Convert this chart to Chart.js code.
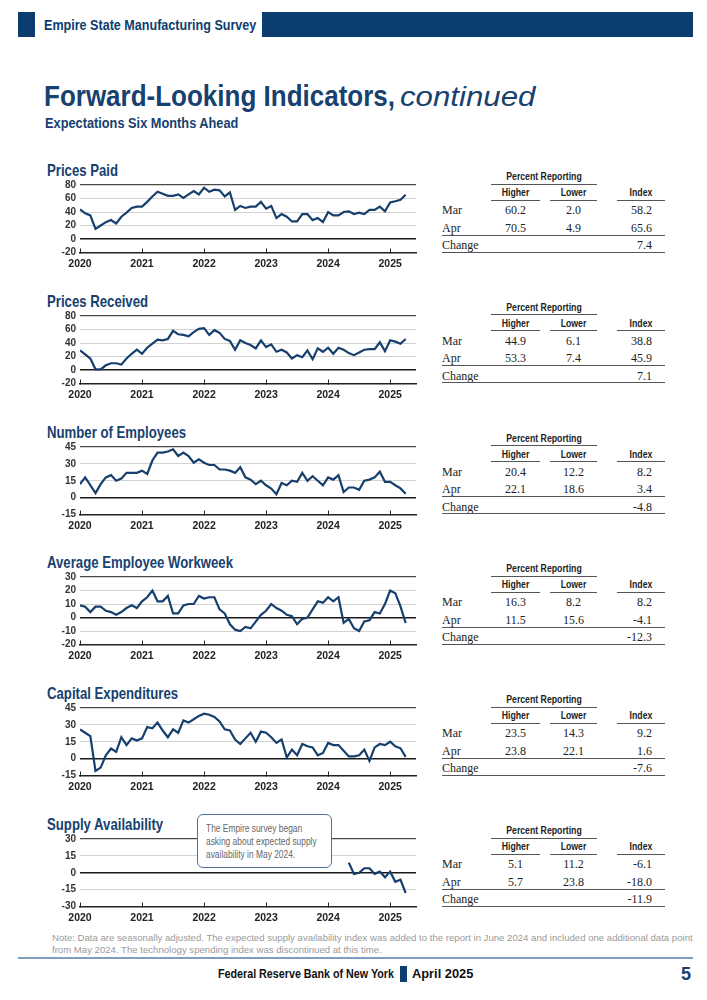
<!DOCTYPE html>
<html>
<head>
<meta charset="utf-8">
<script src="https://cdn.jsdelivr.net/npm/chart.js@4.4.1/dist/chart.umd.min.js"></script>
<style>
body { margin: 0; background: #fff; }
#page { position: relative; width: 707px; height: 1000px; overflow: hidden;
        font-family: "Liberation Sans", Arial, sans-serif; color: #17416f; }
.abs { position: absolute; white-space: nowrap; transform-origin: 0 50%; }
.box { position: absolute; }
.panelTitle { position: absolute; left: 47px; font-weight: bold; font-size: 17px; color: #17416f; line-height: 20px;
              white-space: nowrap; transform: scaleX(0.775); transform-origin: 0 50%; }
.wrap { position: absolute; left: 40px; width: 380px; height: 96px; }
.th { position: absolute; font-weight: bold; font-size: 10.5px; color: #222; text-align: center; line-height: 12px;
      white-space: nowrap; transform: scaleX(0.83); }
.td { position: absolute; font-family: "Liberation Serif", "DejaVu Serif", serif; font-size: 12px; color: #222; line-height: 14px; }
.rule { position: absolute; height: 1.3px; background: #555; }
</style>
</head>
<body>
<div id="page">
  <!-- header -->
  <div class="box" style="left:18px;top:12px;width:17px;height:25px;background:#0b3d6f"></div>
  <div class="abs fit" data-w="212" style="left:44px;top:15px;font-size:15px;font-weight:bold;color:#0b3d6f;line-height:20px">Empire State Manufacturing Survey</div>
  <div class="box" style="left:262px;top:12px;width:431px;height:25px;background:#0b3d6f"></div>

  <div class="abs fit" data-w="351" style="left:44px;top:78px;font-size:30px;font-weight:bold;line-height:36px;color:#17416f">Forward-Looking Indicators,</div>
  <div class="abs fit" data-w="135" style="left:400px;top:79px;font-size:28px;font-style:italic;line-height:36px;color:#17416f">continued</div>
  <div class="abs fit" data-w="193" style="left:45px;top:114px;font-size:14.5px;font-weight:bold;line-height:18px;color:#17416f">Expectations Six Months Ahead</div>

  <!-- callout in supply panel -->
  <div class="box" style="left:197px;top:814px;width:133px;height:52px;border:1.3px solid #4f739c;border-radius:6px;background:#fff;z-index:5"></div>
  <div class="abs" style="left:206px;top:822px;font-size:10.5px;line-height:13px;color:#666;z-index:6;transform:scaleX(0.8)">The Empire survey began<br>asking about expected supply<br>availability in May 2024.</div>

  <!-- footer -->
  <div class="abs fit" data-w="641" style="left:52px;top:932px;font-size:9.5px;line-height:12px;color:#9a9a9a">Note: Data are seasonally adjusted. The expected supply availability index was added to the report in June 2024 and included one additional data point<br>from May 2024. The technology spending index was discontinued at this time.</div>
  <div class="box" style="left:18px;top:957px;width:675px;height:1.5px;background:#7f9dc0"></div>
  <div class="abs fit" data-w="176" style="left:218px;top:967px;font-size:12px;font-weight:bold;color:#111;line-height:15px">Federal Reserve Bank of New York</div>
  <div class="box" style="left:400px;top:966px;width:7px;height:16px;background:#0b3d6f"></div>
  <div class="abs fit" data-w="61" style="left:412px;top:967px;font-size:12px;font-weight:bold;color:#111;line-height:15px">April 2025</div>
  <div class="abs" style="left:681px;top:964px;font-size:18px;font-weight:bold;color:#17416f;line-height:20px">5</div>
</div>

<script>
const years = ['2020', '2021', '2022', '2023', '2024', '2025'];
const monthNames = ['Jan', 'Feb', 'Mar', 'Apr', 'May', 'Jun', 'Jul', 'Aug', 'Sep', 'Oct', 'Nov', 'Dec'];

// Jan 2020 .. Apr 2025, monthly
const pricesPaid = [44, 38, 35, 15, 20, 25, 28, 23, 33, 39, 46, 48,
    48, 55, 63, 70, 67, 64, 64, 66, 61, 66, 71, 66,
    76, 70, 73, 72, 63, 69, 43, 49, 46, 48, 48, 55,
    45, 49, 31, 37, 33, 26, 26, 37, 37, 28, 31, 25,
    40, 35, 35, 40, 41, 37, 39, 37, 43, 43, 48, 41,
    54, 56, 58.2, 65.6];
const pricesReceived = [29, 23, 17, 1, 1, 7, 10, 10, 8, 17, 24, 30,
    24, 33, 39, 45, 44, 46, 58, 53, 52, 50, 56, 61,
    62, 52, 59, 55, 46, 43, 30, 44, 40, 37, 32, 44,
    34, 38, 27, 30, 26, 17, 22, 19, 29, 16, 32, 27,
    33, 24, 33, 30, 25, 22, 26, 30, 31, 31, 41, 28,
    44, 42, 38.8, 45.9];
const employees = [12, 18, 11, 4, 12, 18, 20, 15, 17, 22, 22, 22,
    24, 21, 33, 40, 40, 41, 43, 37, 40, 37, 31, 34,
    31, 29, 29, 25, 25, 24, 22, 27, 18, 16, 12, 15,
    11, 8, 3, 13, 11, 15, 14, 22, 15, 19, 15, 11,
    18, 16, 20, 5, 9, 9, 7, 15, 16, 18, 23, 14,
    14, 11, 8.2, 3.4];
const workweek = [9, 8, 4, 8, 8, 5, 4, 2, 4, 7, 9, 7,
    12, 15, 20, 12, 12, 16, 3, 3, 9, 10, 10, 16,
    14, 15, 15, 6, 3, -5, -9, -10, -7, -8, -3, 2,
    5, 10, 7, 5, 2, 1, -5, -1, 0, 6, 12, 11,
    15, 12, 15, -4, -1, -8, -10, -3, -2, 4, 3, 10,
    20, 18, 8.2, -4.1];
const capex = [26, 23, 20, -11, -8, 3, 9, 6, 19, 12, 18, 16,
    18, 28, 27, 32, 25, 19, 26, 23, 34, 32, 35, 38,
    40, 39, 37, 33, 26, 25, 17, 13, 18, 23, 15, 24,
    23, 19, 14, 17, 1, 8, 3, 13, 11, 10, 3, 5,
    14, 12, 12, 7, 2, 2, 3, 8, -2, 10, 13, 12,
    15, 11, 9.2, 1.6];
// survey question starts May 2024
const supplyStart = 'May 2024';
const supply = [9, -1, 0, 4, 4, -1, 1, -4, 1, -8, -6.1, -18.0];

const tableCols = ['Higher', 'Lower', 'Index'];
const tableRows = ['Mar', 'Apr', 'Change'];
const ppTable = [['60.2', '2.0', '58.2'], ['70.5', '4.9', '65.6'], ['7.4']];
const prTable = [['44.9', '6.1', '38.8'], ['53.3', '7.4', '45.9'], ['7.1']];
const empTable = [['20.4', '12.2', '8.2'], ['22.1', '18.6', '3.4'], ['-4.8']];
const wwTable = [['16.3', '8.2', '8.2'], ['11.5', '15.6', '-4.1'], ['-12.3']];
const capexTable = [['23.5', '14.3', '9.2'], ['23.8', '22.1', '1.6'], ['-7.6']];
const supplyTable = [['5.1', '11.2', '-6.1'], ['5.7', '23.8', '-18.0'], ['-11.9']];

const months = [];
years.forEach(y => monthNames.forEach(m => months.push(m + ' ' + y)));
months.length = pricesPaid.length;

const FONT = '"Liberation Sans", Arial, sans-serif';
const LINE = '#173f6d';

const panels = [
    { title: 'Prices Paid', values: pricesPaid, min: -20, max: 80, step: 20, table: ppTable, top: 185 },
    { title: 'Prices Received', values: pricesReceived, min: -20, max: 80, step: 20, table: prTable, top: 315.5 },
    { title: 'Number of Employees', values: employees, min: -15, max: 45, step: 15, table: empTable, top: 446.5 },
    { title: 'Average Employee Workweek', values: workweek, min: -20, max: 30, step: 10, table: wwTable, top: 577 },
    { title: 'Capital Expenditures', values: capex, min: -15, max: 45, step: 15, table: capexTable, top: 708 },
    { title: 'Supply Availability', values: months.map((m, i) => {
        const k = i - months.indexOf(supplyStart);
        return k >= 0 ? supply[k] : null;
    }), min: -30, max: 30, step: 15, table: supplyTable, top: 839 }
];

// small year ticks sitting on the axis, pointing up
const yearTicks = {
    id: 'yearTicks',
    afterDatasetsDraw(chart) {
        const { ctx, chartArea } = chart;
        const x = chart.scales.x;
        ctx.save();
        ctx.strokeStyle = '#222';
        ctx.lineWidth = 1;
        x.ticks.forEach(t => {
            const px = Math.round(x.getPixelForValue(t.value)) + 0.5;
            ctx.beginPath();
            ctx.moveTo(px, chartArea.bottom - 4);
            ctx.lineTo(px, chartArea.bottom + 1);
            ctx.stroke();
        });
        ctx.restore();
    }
};

const page = document.getElementById('page');

const addDiv = (cls, style, text) => {
    const d = document.createElement('div');
    d.className = cls;
    d.style.cssText = style;
    if (text !== undefined) d.textContent = text;
    page.appendChild(d);
    return d;
};

const drawTable = (rows, top) => {
    const colL = [491, 550, 617];
    const colW = [49, 47, 48];
    addDiv('th', `left:481px;width:126px;top:${top - 6}px`, 'Percent Reporting');
    addDiv('rule', `left:491px;width:106px;top:${top + 7.5}px`);
    tableCols.forEach((c, i) => {
        addDiv('th', `left:${colL[i]}px;width:${colW[i]}px;top:${top + 10}px`, c);
        addDiv('rule', `left:${colL[i]}px;width:${colW[i]}px;top:${top + 23.5}px`);
    });
    const rowY = [top + 27, top + 44.5, top + 62];
    tableRows.forEach((r, j) => {
        addDiv('td', `left:442px;top:${rowY[j]}px`, r);
        const vals = rows[j];
        if (vals.length === 3) {
            addDiv('td', `left:${colL[0]}px;width:${colW[0]}px;text-align:center;top:${rowY[j]}px`, vals[0]);
            addDiv('td', `left:${colL[1]}px;width:${colW[1]}px;text-align:center;top:${rowY[j]}px`, vals[1]);
            addDiv('td', `left:600px;width:52px;text-align:right;top:${rowY[j]}px`, vals[2]);
        } else {
            addDiv('td', `left:600px;width:52px;text-align:right;top:${rowY[j]}px`, vals[0]);
        }
    });
    addDiv('rule', `left:442px;width:223px;top:${top + 58.5}px`);
    addDiv('rule', `left:442px;width:223px;top:${top + 75.5}px`);
};

const drawPanel = (p) => {
    addDiv('panelTitle', `top:${p.top - 24}px`, p.title);
    drawTable(p.table, p.top - 9);

    const wrap = addDiv('wrap', `top:${p.top - 8}px`);
    const canvas = document.createElement('canvas');
    wrap.appendChild(canvas);

    new Chart(canvas, {
        type: 'line',
        data: {
            labels: months,
            datasets: [{
                label: p.title,
                data: p.values.map((v, i) => ({ x: i, y: v })),
                borderColor: LINE,
                borderWidth: 2.2,
                pointRadius: 0,
                tension: 0,
                spanGaps: false
            }]
        },
        options: {
            responsive: true,
            maintainAspectRatio: false,
            animation: false,
            layout: { padding: { left: 0, right: 4, top: 8, bottom: 0 } },
            plugins: { legend: { display: false }, tooltip: { enabled: false } },
            scales: {
                x: {
                    type: 'linear',
                    min: 0,
                    max: 65,
                    grid: { display: false },
                    border: { display: true, color: '#222', width: 1.5 },
                    ticks: {
                        stepSize: 12,
                        includeBounds: false,
                        autoSkip: false,
                        maxRotation: 0,
                        padding: -3,
                        color: '#222',
                        font: { family: FONT, weight: 'bold', size: 10.5 },
                        callback: v => (v % 12 === 0 ? years[v / 12] : '')
                    },
                    afterFit: s => { s.height = 20.5; s.paddingLeft = 0; s.paddingRight = 0; }
                },
                y: {
                    min: p.min,
                    max: p.max,
                    border: { display: false },
                    grid: {
                        drawTicks: false,
                        color: c => {
                            const v = c.tick.value;
                            if (v === p.min) return 'rgba(0,0,0,0)';
                            if (v === 0) return '#1a1a1a';
                            if (v === p.max) return '#4a4a4a';
                            return '#d2d2d2';
                        },
                        lineWidth: c => (c.tick.value === 0 ? 1.6 : c.tick.value === p.max ? 1.3 : 1)
                    },
                    ticks: {
                        stepSize: p.step,
                        autoSkip: false,
                        padding: 4,
                        color: '#333',
                        font: { family: FONT, weight: 'bold', size: 10 }
                    },
                    afterFit: s => { s.width = 40; s.paddingTop = 0; s.paddingBottom = 0; }
                }
            }
        },
        plugins: [yearTicks]
    });
};

panels.forEach(drawPanel);

// squeeze condensed-looking text to the widths in the reference
document.querySelectorAll('.fit').forEach(el => {
    const w = el.offsetWidth;
    el.style.transform = `scaleX(${el.dataset.w / w})`;
});
</script>
</body>
</html>
